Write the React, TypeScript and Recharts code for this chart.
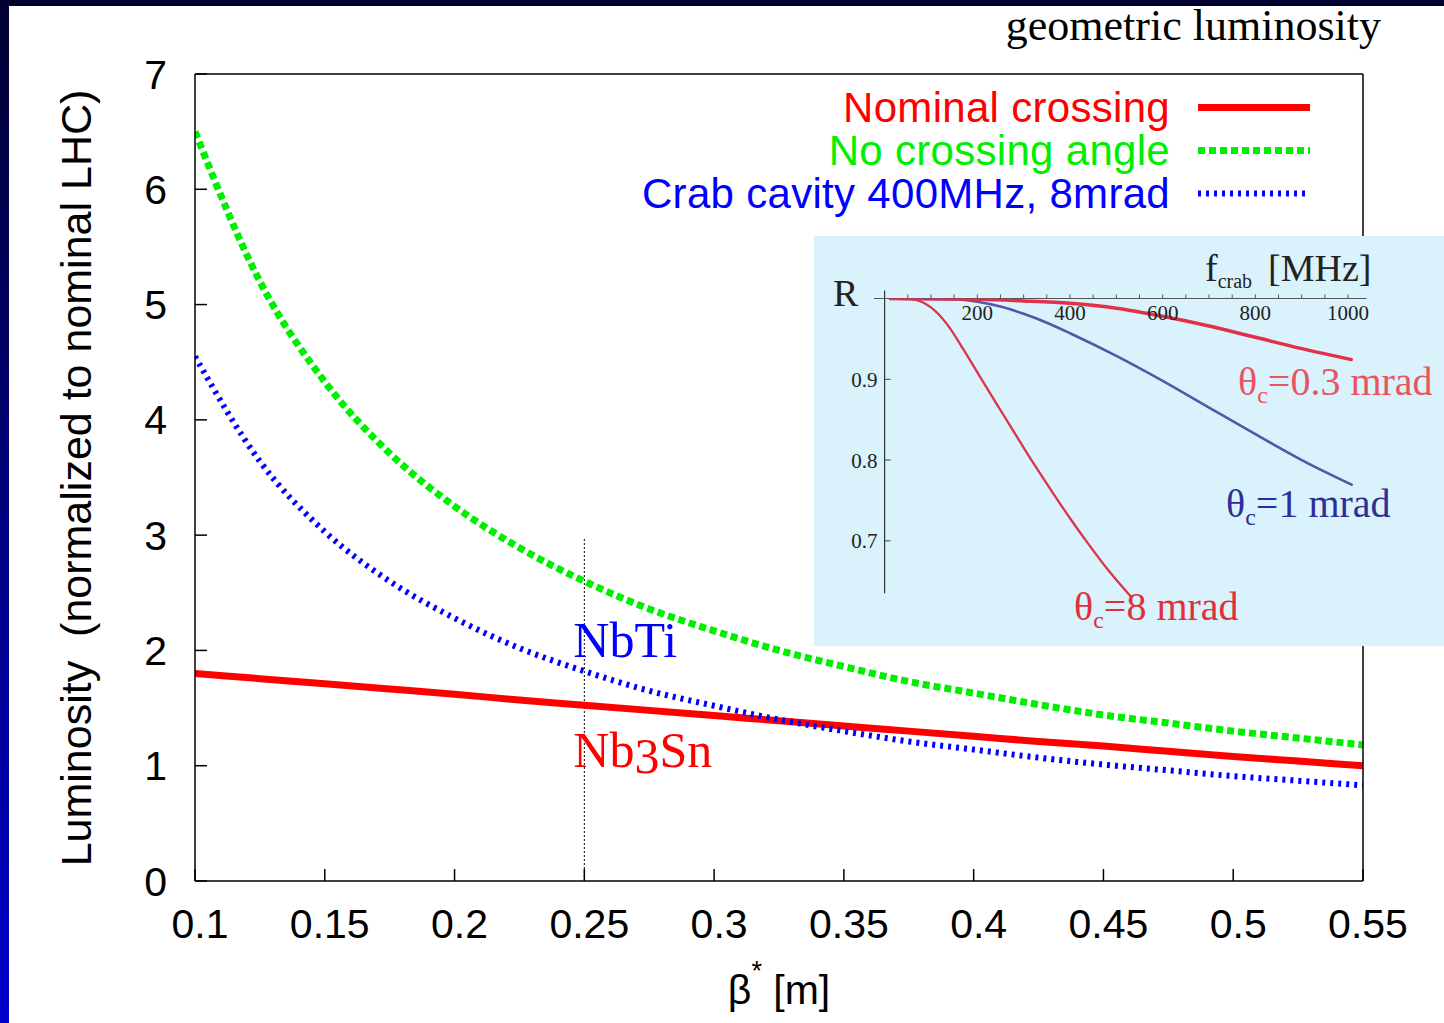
import { LineChart, Line, XAxis, YAxis, ReferenceLine, ReferenceDot, Legend, Label } from 'recharts';

// main plot: beta* [m] vs luminosity (normalised to nominal LHC)
const BETA = [0.1, 0.125, 0.15, 0.175, 0.2, 0.225, 0.25, 0.275, 0.3, 0.325, 0.35, 0.375, 0.4, 0.425, 0.45, 0.475, 0.5, 0.525, 0.55];
const NOMINAL = [1.8, 1.755, 1.71, 1.665, 1.62, 1.57, 1.525, 1.48, 1.435, 1.39, 1.345, 1.3, 1.255, 1.21, 1.17, 1.125, 1.08, 1.04, 1.0];
const NO_CROSSING = [6.5, 5.2, 4.33, 3.71, 3.25, 2.89, 2.6, 2.36, 2.17, 2.0, 1.86, 1.73, 1.63, 1.53, 1.44, 1.37, 1.3, 1.24, 1.18];
const CRAB = [4.55, 3.64, 3.03, 2.6, 2.28, 2.02, 1.82, 1.65, 1.52, 1.4, 1.3, 1.21, 1.14, 1.07, 1.01, 0.96, 0.91, 0.87, 0.83];
const SERIES_NAMES = ['Nominal crossing', 'No crossing angle', 'Crab cavity 400MHz, 8mrad'];
const X_TICKS = [0.1, 0.15, 0.2, 0.25, 0.3, 0.35, 0.4, 0.45, 0.5, 0.55];
const Y_TICKS = [0, 1, 2, 3, 4, 5, 6, 7];

// inset: reduction factor R vs crab frequency [MHz]
const F_8MRAD = [10, 60, 100, 135, 170, 205, 240, 280, 320, 360, 400, 440, 485, 533];
const R_8MRAD = [1.0, 0.999, 0.989, 0.968, 0.937, 0.904, 0.871, 0.834, 0.797, 0.762, 0.728, 0.696, 0.662, 0.63];
const F_1MRAD = [10, 100, 150, 200, 250, 300, 350, 400, 500, 600, 700, 800, 900, 1010];
const R_1MRAD = [1.0, 0.9995, 0.999, 0.996, 0.99, 0.981, 0.97, 0.957, 0.929, 0.898, 0.865, 0.832, 0.8, 0.769];
const F_03MRAD = [10, 200, 300, 400, 500, 600, 700, 800, 900, 1010];
const R_03MRAD = [1.0, 0.999, 0.997, 0.994, 0.988, 0.978, 0.966, 0.952, 0.938, 0.924];
const F_TICKS = [50, 100, 150, 200, 250, 300, 350, 400, 450, 500, 550, 600, 650, 700, 750, 800, 850, 900, 950, 1000];
const R_TICKS = [0.7, 0.8, 0.9];
const R_MINOR = [0.64, 0.65, 0.66, 0.67, 0.68, 0.69, 0.71, 0.72, 0.73, 0.74, 0.75, 0.76, 0.77, 0.78, 0.79,
  0.81, 0.82, 0.83, 0.84, 0.85, 0.86, 0.87, 0.88, 0.89, 0.91, 0.92, 0.93, 0.94, 0.95, 0.96, 0.97, 0.98, 0.99];

const SANS = '"Liberation Sans", Arial, Helvetica, sans-serif';
const SERIF = '"Liberation Serif", "Times New Roman", serif';

const LINE_STYLE = [
  { color: '#ff0000', width: 7, dash: undefined },
  { color: '#00ee00', width: 7, dash: '7 4' },
  { color: '#0000ff', width: 6, dash: '3 5' },
];

const mainData = BETA.map((b, i) => ({ beta: b, nominal: NOMINAL[i], noCrossing: NO_CROSSING[i], crab: CRAB[i] }));
const toRows = (fs: number[], rs: number[]) => fs.map((f, i) => ({ f, r: rs[i] }));

function MainLegend() {
  return (
    <div style={{ fontFamily: SANS, fontSize: 42 }}>
      {SERIES_NAMES.map((name, i) => (
        <div key={name} style={{ display: 'flex', justifyContent: 'flex-end', alignItems: 'center', height: 43 }}>
          <span style={{ color: LINE_STYLE[i].color, lineHeight: '43px', whiteSpace: 'nowrap', letterSpacing: 0.3 }}>{name}</span>
          <svg width={150} height={43} style={{ display: 'block' }}>
            <line x1={28} x2={140} y1={21.5} y2={21.5} stroke={LINE_STYLE[i].color}
              strokeWidth={LINE_STYLE[i].width} strokeDasharray={LINE_STYLE[i].dash} />
          </svg>
        </div>
      ))}
    </div>
  );
}

const YTitle = () => (
  <text x={91} y={478} transform="rotate(-90 91 478)" textAnchor="middle" fill="#000"
    fontFamily={SANS} fontSize={43} style={{ whiteSpace: 'pre' }}>
    {'Luminosity  (normalized to nominal LHC)'}
  </text>
);

const XTitle = () => (
  <text x={779} y={1004} textAnchor="middle" fill="#000" fontFamily={SANS} fontSize={41} style={{ whiteSpace: 'pre' }}>
    β<tspan dy={-24} fontSize={27}>*</tspan><tspan dy={24}>{' [m]'}</tspan>
  </text>
);

const material = (color: string, main: string, sub?: string, rest?: string) => (props: any) => {
  const { x, y } = props.viewBox;
  return (
    <text x={x - 11} y={y} fill={color} fontFamily={SERIF} fontSize={50}>
      {main}
      {sub && <tspan dy={6}>{sub}</tspan>}
      {rest && <tspan dy={-6}>{rest}</tspan>}
    </text>
  );
};

export default function App() {
  const axisStroke = { stroke: '#000', strokeWidth: 1.5 };
  const insetTick = { fill: '#222', fontSize: 21, fontFamily: SERIF };
  return (
    <div style={{ position: 'absolute', left: 0, top: 0, width: 1444, height: 1023, overflow: 'hidden',
      background: 'linear-gradient(to bottom, #000030, #0000cc)' }}>
      <div style={{ position: 'absolute', left: 9, top: 6, right: 0, bottom: 0, background: '#fff' }} />
      <LineChart width={1444} height={1023} data={mainData}
        margin={{ top: 73, right: 80, bottom: 141, left: 194 }}
        style={{ position: 'absolute', left: 0, top: 0 }}>
        <XAxis dataKey="beta" type="number" domain={[0.1, 0.55]} ticks={X_TICKS} interval={0} allowDataOverflow
          height={1} tickSize={-12} tickMargin={40} axisLine={axisStroke} tickLine={axisStroke}
          tick={{ fill: '#000', fontSize: 41, fontFamily: SANS, dx: 5 }}>
          <Label content={XTitle} />
        </XAxis>
        <XAxis xAxisId="top" orientation="top" type="number" domain={[0.1, 0.55]} ticks={X_TICKS} interval={0}
          allowDataOverflow height={1} tickSize={-12} tick={false} axisLine={axisStroke} tickLine={axisStroke} />
        <YAxis type="number" domain={[0, 7]} ticks={Y_TICKS} interval={0} allowDataOverflow width={1}
          tickSize={-12} tickMargin={40} axisLine={axisStroke} tickLine={axisStroke}
          tick={{ fill: '#000', fontSize: 41, fontFamily: SANS }}>
          <Label content={YTitle} />
        </YAxis>
        <YAxis yAxisId="right" orientation="right" type="number" domain={[0, 7]} ticks={Y_TICKS} interval={0}
          allowDataOverflow width={1} tickSize={-12} tick={false} axisLine={axisStroke} tickLine={axisStroke} />
        <ReferenceLine segment={[{ x: 0.25, y: 0 }, { x: 0.25, y: 2.97 }]} stroke="#000" strokeWidth={1} strokeDasharray="2 2" />
        <Line dataKey="noCrossing" type="monotone" stroke={LINE_STYLE[1].color} strokeWidth={LINE_STYLE[1].width}
          strokeDasharray={LINE_STYLE[1].dash} dot={false} activeDot={false} isAnimationActive={false} />
        <Line dataKey="nominal" type="monotone" stroke={LINE_STYLE[0].color} strokeWidth={LINE_STYLE[0].width}
          dot={false} activeDot={false} isAnimationActive={false} />
        <Line dataKey="crab" type="monotone" stroke={LINE_STYLE[2].color} strokeWidth={LINE_STYLE[2].width}
          strokeDasharray={LINE_STYLE[2].dash} dot={false} activeDot={false} isAnimationActive={false} />
        <ReferenceDot x={0.25} y={1.943} r={0} fill="none" stroke="none" label={material('#0000ff', 'NbTi')} />
        <ReferenceDot x={0.25} y={0.989} r={0} fill="none" stroke="none" label={material('#ff0000', 'Nb', '3', 'Sn')} />
        <Legend content={MainLegend} layout="horizontal" verticalAlign="middle" align="center"
          wrapperStyle={{ left: 600, top: 86, width: 720, height: 129 }} />
      </LineChart>

      <div style={{ position: 'absolute', left: 814, top: 236, width: 630, height: 410, background: '#d9f2fc' }}>
        <LineChart width={630} height={410} margin={{ top: 62.5, right: 77.4, bottom: 48.6, left: 68.6 }}>
          <XAxis dataKey="f" type="number" orientation="top" mirror height={1} domain={[0, 1040]} ticks={F_TICKS}
            interval={0} allowDataOverflow axisLine={false} tickSize={-4} tickMargin={11}
            tickLine={{ stroke: '#555' }} tickFormatter={(v: number) => (v % 200 === 0 ? String(v) : '')}
            tick={insetTick} />
          <YAxis type="number" domain={[0.63, 1]} ticks={R_TICKS} interval={0} allowDataOverflow width={1}
            axisLine={false} tickSize={-6} tickMargin={13} tickLine={{ stroke: '#444' }} tick={insetTick} />
          <YAxis yAxisId="minor" type="number" domain={[0.63, 1]} ticks={R_MINOR} interval={0} allowDataOverflow
            width={1} axisLine={false} tickSize={-3} tick={false} tickLine={{ stroke: '#666' }} />
          <ReferenceLine segment={[{ x: -23, y: 1 }, { x: 1040, y: 1 }]} ifOverflow="visible" stroke="#555" strokeWidth={1.2} />
          <ReferenceLine segment={[{ x: 0, y: 0.635 }, { x: 0, y: 1.01 }]} ifOverflow="visible" stroke="#333" strokeWidth={1.2} />
          <Line data={toRows(F_1MRAD, R_1MRAD)} dataKey="r" type="monotone" stroke="#5656a8" strokeWidth={2.6}
            dot={false} activeDot={false} isAnimationActive={false} />
          <Line data={toRows(F_8MRAD, R_8MRAD)} dataKey="r" type="monotone" stroke="#dc3545" strokeWidth={2.3}
            dot={false} activeDot={false} isAnimationActive={false} />
          <Line data={toRows(F_03MRAD, R_03MRAD)} dataKey="r" type="monotone" stroke="#e2304a" strokeWidth={3.5}
            dot={false} activeDot={false} isAnimationActive={false} />
        </LineChart>
      </div>

      <svg width={1444} height={1023} style={{ position: 'absolute', left: 0, top: 0, pointerEvents: 'none' }}>
        <text x={1381} y={40} textAnchor="end" fontFamily={SERIF} fontSize={44} fill="#000">geometric luminosity</text>
        <text x={833} y={306} fontFamily={SERIF} fontSize={38} fill="#222">R</text>
        <text x={1205} y={281} fontFamily={SERIF} fontSize={38} fill="#222">
          f<tspan dy={7} fontSize={20}>crab</tspan><tspan x={1268} dy={-7}>[MHz]</tspan>
        </text>
        <text x={1238} y={395} fontFamily={SERIF} fontSize={40} fill="#e85560">
          θ<tspan dy={8} fontSize={24}>c</tspan><tspan dy={-8}>=0.3 mrad</tspan>
        </text>
        <text x={1226} y={517} fontFamily={SERIF} fontSize={40} fill="#2e2e9a">
          θ<tspan dy={8} fontSize={24}>c</tspan><tspan dy={-8}>=1 mrad</tspan>
        </text>
        <text x={1074} y={620} fontFamily={SERIF} fontSize={40} fill="#e0303a">
          θ<tspan dy={8} fontSize={24}>c</tspan><tspan dy={-8}>=8 mrad</tspan>
        </text>
      </svg>
    </div>
  );
}
